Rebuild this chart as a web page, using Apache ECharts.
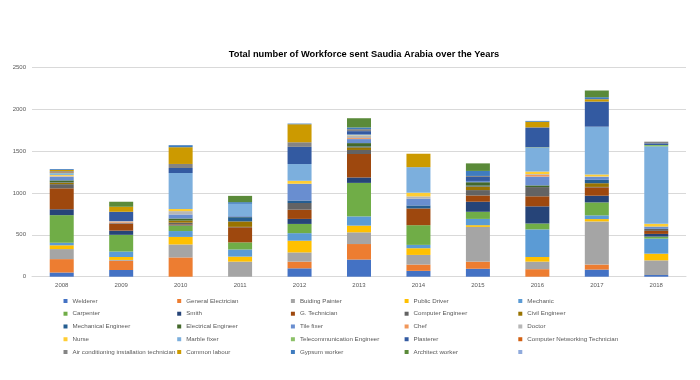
<!DOCTYPE html>
<html>
<head>
<meta charset="utf-8">
<script src="https://cdn.jsdelivr.net/npm/echarts@6/dist/echarts.min.js"></script>
<style>html,body{margin:0;padding:0;background:#fff}#chart{width:700px;height:380px}</style>
</head>
<body>
<div id="chart"></div>
<script>
var years = ['2008','2009','2010','2011','2012','2013','2014','2015','2016','2017','2018'];
var yTicks = [0, 500, 1000, 1500, 2000, 2500];

var welderer      = [50, 80, 0, 0, 100, 205, 70, 95, 0, 85, 20];
var genElectric   = [160, 110, 230, 0, 80, 185, 75, 85, 90, 60, 0];
var painter       = [120, 10, 155, 180, 110, 140, 115, 415, 90, 515, 175];
var publicDriver  = [45, 35, 90, 60, 140, 80, 80, 20, 55, 28, 80];
var mechanic      = [30, 65, 70, 85, 90, 110, 40, 75, 330, 44, 180];
var carpenter     = [330, 200, 65, 85, 110, 400, 235, 85, 70, 155, 24];
var smith         = [70, 50, 5, 0, 60, 65, 0, 120, 205, 80, 32];
var gTechnician   = [250, 85, 10, 180, 110, 280, 200, 75, 120, 100, 36];
var compEngineer  = [50, 5, 20, 5, 80, 48, 0, 64, 110, 5, 24];
var civilEngineer = [20, 0, 25, 65, 0, 32, 0, 44, 0, 44, 0];
var mechEngineer  = [5, 0, 0, 50, 30, 10, 36, 10, 0, 40, 0];
var elecEngineer  = [20, 0, 25, 5, 0, 40, 0, 40, 20, 0, 0];
var tileFixer     = [40, 5, 48, 10, 200, 48, 80, 15, 105, 36, 28];
var chef          = [5, 15, 0, 0, 0, 12, 0, 0, 20, 0, 0];
var doctor        = [10, 0, 40, 0, 0, 28, 28, 0, 10, 5, 0];
var nurse         = [10, 0, 25, 0, 35, 5, 44, 0, 30, 24, 32];
var marbleFixer   = [20, 5, 430, 145, 200, 10, 305, 0, 285, 570, 925];
var telecomEng    = [5, 0, 0, 0, 0, 0, 0, 0, 5, 0, 16];
var plasterer     = [5, 110, 60, 0, 205, 40, 0, 48, 230, 300, 20];
var compNetTech   = [5, 0, 0, 0, 0, 0, 0, 0, 0, 0, 0];
var acTechnician  = [10, 0, 48, 0, 55, 24, 0, 12, 10, 0, 20];
var commonLabour  = [15, 60, 200, 0, 215, 0, 160, 0, 65, 28, 0];
var gypsumWorker  = [10, 0, 24, 20, 8, 20, 0, 60, 10, 24, 0];
var architect     = [0, 60, 0, 75, 0, 110, 0, 90, 0, 80, 0];
var blankSeries   = [0, 0, 0, 0, 0, 0, 0, 0, 0, 0, 0];

var seriesNames = ['Welderer','General Electrician','Buiding Painter','Public Driver','Mechanic',
  'Carpenter','Smith','G. Technician','Computer Engineer','Civil Engineer',
  'Mechanical Engineer','Electrical Engineer','Tile fixer','Chef','Doctor',
  'Nurse','Marble fixer','Telecommunication Engineer','Plasterer','Computer Networking Technician',
  'Air conditioning installation technician','Common labour','Gypsum worker','Architect worker',' '];
var seriesData = [welderer, genElectric, painter, publicDriver, mechanic,
  carpenter, smith, gTechnician, compEngineer, civilEngineer,
  mechEngineer, elecEngineer, tileFixer, chef, doctor,
  nurse, marbleFixer, telecomEng, plasterer, compNetTech,
  acTechnician, commonLabour, gypsumWorker, architect, blankSeries];
var colors = ['#4472C4','#ED7D31','#A5A5A5','#FFC000','#5B9BD5',
  '#70AD47','#264478','#9E480E','#636363','#997300',
  '#255E91','#43682B','#698ED0','#F1975A','#B7B7B7',
  '#FFCD33','#7CAFDD','#8CC168','#335AA1','#D26012',
  '#848484','#CC9A00','#3F7CBF','#5A8A39','#8FAADC'];

var font = 'Liberation Sans';
var series = seriesNames.map(function(n, i){
  return {name: n, type: 'bar', stack: 'total', barWidth: 24,
    itemStyle: {color: colors[i]}, data: seriesData[i]};
});

var legendLefts = [63.5, 177.2, 290.9, 404.6, 518.3];
var legends = legendLefts.map(function(l, c){
  var d = [];
  for (var r = 0; r < 5; r++) d.push(seriesNames[r*5 + c]);
  return {orient: 'vertical', left: l, top: 294.6, padding: 0, itemGap: 0,
    itemWidth: 4, itemHeight: 4, icon: 'rect', selectedMode: false, data: d,
    textStyle: {fontFamily: font, fontSize: 6.2, color: '#595959', lineHeight: 12.75}};
});

var chart = echarts.init(document.getElementById('chart'), null, {renderer: 'canvas'});
chart.setOption({
  animation: false,
  color: colors,
  title: {text: 'Total number of Workforce sent Saudia Arabia over the Years',
    left: 359, top: 45, textAlign: 'center',
    textStyle: {fontFamily: font, fontSize: 9.3, fontWeight: 'bold', color: '#000'}},
  legend: legends,
  grid: {left: 32, right: 14, top: 67.3, bottom: 103.3},
  xAxis: {type: 'category', data: years,
    axisLine: {lineStyle: {color: '#d9d9d9'}}, axisTick: {show: false},
    axisLabel: {fontFamily: font, fontSize: 6, color: '#595959', margin: 6}},
  yAxis: {type: 'value', min: yTicks[0], max: yTicks[yTicks.length-1], interval: yTicks[1]-yTicks[0],
    axisLine: {show: false}, axisTick: {show: false},
    splitLine: {lineStyle: {color: '#d9d9d9'}},
    axisLabel: {fontFamily: font, fontSize: 6, color: '#595959', margin: 6,
      formatter: function(v){ return String(v); }}},
  series: series
});
</script>
</body>
</html>
